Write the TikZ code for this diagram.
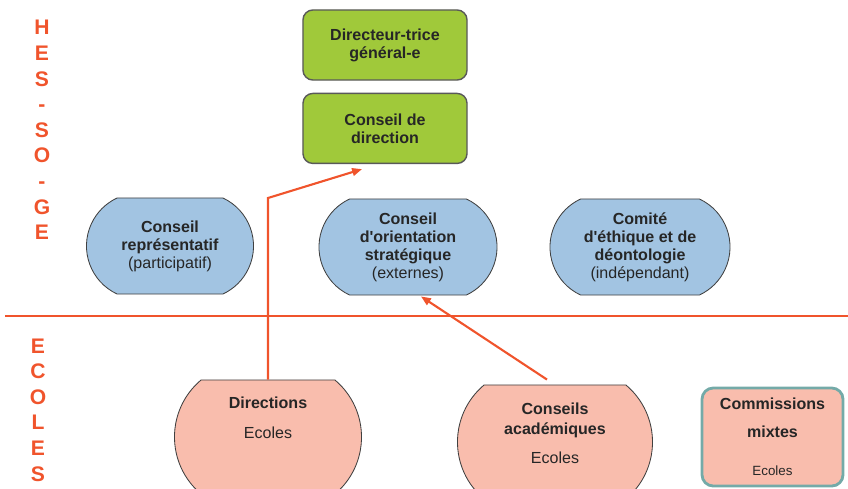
\documentclass[tikz,border=0pt]{standalone}
\usepackage{fontspec}
\setmainfont{Liberation Sans}[Ligatures=TeXOff]
\usepackage{xcolor}
\usepackage{tikz}
\usetikzlibrary{calc}
\usetikzlibrary{positioning}
\usetikzlibrary{arrows.meta}
\usetikzlibrary{shapes.misc}

\definecolor{hesorange}{RGB}{240,84,44}
\definecolor{dirgreen}{RGB}{160,201,58}
\definecolor{conblue}{RGB}{162,196,226}
\definecolor{ecosalmon}{RGB}{249,189,173}
\definecolor{comteal}{RGB}{116,170,168}
\definecolor{txtgray}{RGB}{38,38,38}

\begin{document}
\begin{tikzpicture}[x=0.025cm,y=-0.025cm]
  \tikzset{every node/.style={font=\fontsize{11.4}{12.8}\selectfont,text=txtgray,align=center,inner sep=0pt}};
  \tikzset{greenbox/.style={rectangle,rounded corners=7pt,draw=black!65,line width=1pt,fill=dirgreen,minimum width=4.1cm,minimum height=1.75cm}};
  \tikzset{bluebox/.style={rounded rectangle,rounded rectangle arc length=130,draw=black!75,line width=0.6pt,fill=conblue,minimum height=2.4cm}};
  \tikzset{salmonbox/.style={rounded rectangle,rounded rectangle arc length=100,draw=black!75,line width=0.6pt,fill=ecosalmon,minimum height=2.85cm}};
  \tikzset{sidelabel/.style={font=\fontsize{15}{18.2}\selectfont\bfseries,text=hesorange}};
  \tikzset{redarrow/.style={draw=hesorange,line width=1.5pt,-{Triangle[length=7pt,width=5.5pt]}}};
  \clip (0,0) rectangle (848,488);
  % HES-SO-GE
  \node [greenbox] (dg) at (385,45) {\textbf{Directeur-trice}\\\textbf{général-e}};
  \node [greenbox, below=0.3cm of dg] (cd) {\textbf{Conseil de}\\\textbf{direction}};
  \node [bluebox, minimum width=4.175cm] (rep) at (170,246) {\textbf{Conseil}\\\textbf{représentatif}\\(participatif)};
  \node [bluebox, minimum width=4.45cm] (cos) at (408,247) {\textbf{Conseil}\\\textbf{d'orientation}\\\textbf{stratégique}\\(externes)};
  \node [bluebox, minimum width=4.5cm] (ced) at (640,247) {\textbf{Comité}\\\textbf{d'éthique et de}\\\textbf{déontologie}\\(indépendant)};
  \node [sidelabel] (hes) at (42,130) {H\\E\\S\\-\\S\\O\\-\\G\\E};
  \draw [hesorange, line width=1pt] (5,316) -- (848,316);
  % Ecoles
  \node [sidelabel] (ecoles) at (38,410) {E\\C\\O\\L\\E\\S};
  \node [salmonbox, minimum width=4.675cm] (dirs) at (268,437) {};
  \node (dirstxt) at (268,418) {\textbf{Directions}\\[8.5pt]Ecoles};
  \node [salmonbox, minimum width=4.875cm] (ca) at (555,442) {};
  \node (catxt) at (555,433) {\textbf{Conseils}\\[1.4pt]\textbf{académiques}\\[7.8pt]Ecoles};
  \node [rectangle, rounded corners=8pt, draw=comteal, line width=2pt, fill=ecosalmon, minimum width=3.525cm, minimum height=2.45cm] (cm) at (772.5,437)
    {\textbf{Commissions}\\[7.1pt]\textbf{mixtes}\\[14pt]{\fontsize{9.5}{11}\selectfont Ecoles}};
  % arrows
  \coordinate (kink) at (268,198);
  \coordinate (cdin) at ($(cd.south)+(-23,5)$);
  \coordinate (caout) at ($(ca.north)+(-8,-5)$);
  \coordinate (cosin) at ($(cos.south)+(13,1)$);
  \draw [redarrow] (dirs.north) -- (dirs.north |- kink) -- (cdin);
  \draw [redarrow] (caout) -- (cosin);
\end{tikzpicture}
\end{document}
